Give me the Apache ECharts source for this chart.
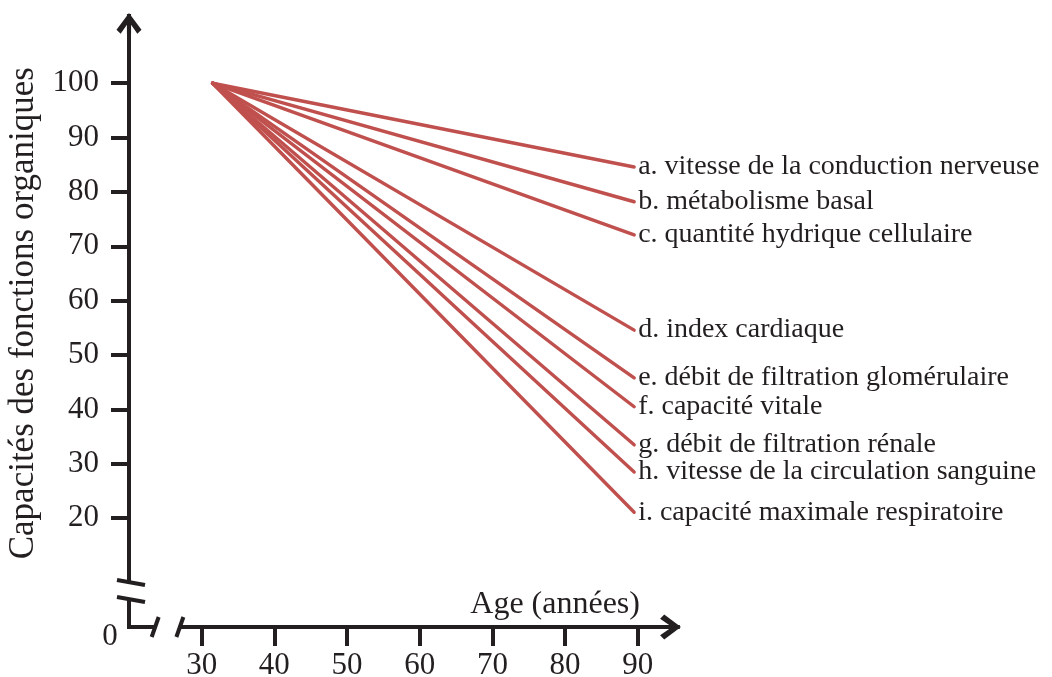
<!DOCTYPE html>
<html><head><meta charset="utf-8">
<script src="https://cdn.jsdelivr.net/npm/echarts@6/dist/echarts.min.js"></script>
<style>html,body{margin:0;padding:0;background:#fff}#c{width:1052px;height:677px}</style>
</head><body><div id="c"></div>
<script>
// ---- data ----
const letters = ['a', 'b', 'c', 'd', 'e', 'f', 'g', 'h', 'i'];
const functionNames = [
  'vitesse de la conduction nerveuse',
  'métabolisme basal',
  'quantité hydrique cellulaire',
  'index cardiaque',
  'débit de filtration glomérulaire',
  'capacité vitale',
  'débit de filtration rénale',
  'vitesse de la circulation sanguine',
  'capacité maximale respiratoire'
];
const startAge = 31.5;
const startValue = 100;
const endAge = 89.5;
const endValues = [84.6, 78.2, 72.1, 54.6, 45.8, 40.5, 33.5, 28.5, 21.1];
const yTickValues = [20, 30, 40, 50, 60, 70, 80, 90, 100];
const xTickValues = [30, 40, 50, 60, 70, 80, 90];
const xTitle = 'Age (années)';
const yTitle = 'Capacités des fonctions organiques';
const originLabel = '0';

// ---- style ----
const INK = '#231f20';
const RED = '#c0504d';
const FONT = '"Liberation Serif", "Times New Roman", serif';
const ARROW = 'path://M0,16 L12,0 L24,16 L20,20 L12,8.5 L4,20 Z M10,1 L14,1 L14,20 L10,20 Z';

const chart = echarts.init(document.getElementById('c'), null, { renderer: 'canvas' });

const series = letters.map((l, i) => ({
  type: 'line',
  name: l,
  data: [[startAge, startValue], [endAge, endValues[i]]],
  showSymbol: false,
  symbol: 'none',
  silent: true,
  clip: false,
  lineStyle: { color: RED, width: 3.4, cap: 'round' },
  endLabel: {
    show: true,
    distance: 4,
    formatter: l + '. ' + functionNames[i],
    color: INK,
    fontFamily: FONT,
    fontSize: 28
  },
  animation: false
}));

chart.setOption({
  animation: false,
  backgroundColor: '#fff',
  grid: { left: 129, right: 381.5, top: 23.4, bottom: 50, containLabel: false, outerBoundsMode: 'none' },
  xAxis: {
    type: 'value', min: 20, max: 94.5,
    axisLine: { show: true, lineStyle: { color: INK, width: 4 }, symbol: ['none', ARROW], symbolSize: [25, 21] },
    axisTick: { show: true, length: 19, lineStyle: { color: INK, width: 4 }, customValues: xTickValues },
    axisLabel: { show: true, customValues: xTickValues, color: INK, fontFamily: FONT, fontSize: 31, margin: 23 },
    splitLine: { show: false }
  },
  yAxis: {
    type: 'value', min: 0, max: 111,
    name: yTitle, nameLocation: 'middle', nameGap: 84,
    nameTextStyle: { color: INK, fontFamily: FONT, fontSize: 35, padding: [0, 0, 0, 24] },
    axisLine: { show: true, lineStyle: { color: INK, width: 4 }, symbol: ['none', ARROW], symbolSize: [25, 21] },
    axisTick: { show: true, length: 18, lineStyle: { color: INK, width: 4 }, customValues: yTickValues },
    axisLabel: { show: true, customValues: yTickValues, color: INK, fontFamily: FONT, fontSize: 31, margin: 30 },
    splitLine: { show: false }
  },
  series: series
});

// ---- axis decorations: breaks, origin label, x title ----
const px = (x, y) => chart.convertToPixel({ gridIndex: 0 }, [x, y]);
const o = px(20, 0);
const yb1 = px(20, 8.2), yb2 = px(20, 5.06);
const xb1 = px(23.6, 0), xb2 = px(27.0, 0);
const titlePos = px(90.3, 0);
const g = [];
// corner fill
g.push({ type: 'rect', z: 100, shape: { x: o[0] - 2, y: o[1] - 2, width: 4, height: 4 }, style: { fill: INK } });
// y break
g.push({ type: 'rect', z: 100, shape: { x: o[0] - 4, y: yb1[1] + 1, width: 8, height: yb2[1] - yb1[1] - 2 }, style: { fill: '#fff' } });
[yb1, yb2].forEach(p => g.push({ type: 'line', z: 101, shape: { x1: p[0] - 12, y1: p[1] - 2.5, x2: p[0] + 16, y2: p[1] + 2.5 }, style: { stroke: INK, lineWidth: 4 } }));
// x break
g.push({ type: 'rect', z: 100, shape: { x: xb1[0] + 1, y: o[1] - 4, width: xb2[0] - xb1[0] - 2, height: 8 }, style: { fill: '#fff' } });
[xb1, xb2].forEach(p => g.push({ type: 'line', z: 101, shape: { x1: p[0] - 3.5, y1: p[1] + 10, x2: p[0] + 3.5, y2: p[1] - 10 }, style: { stroke: INK, lineWidth: 4 } }));
// origin label
g.push({ type: 'text', z: 101, x: o[0] - 19, y: o[1] + 10, style: { text: originLabel, fill: INK, font: '31px ' + FONT, align: 'center', verticalAlign: 'middle' } });
// x title
g.push({ type: 'text', z: 101, x: titlePos[0], y: titlePos[1] - 22, style: { text: xTitle, fill: INK, font: '32px ' + FONT, align: 'right', verticalAlign: 'middle' } });
chart.setOption({ graphic: { elements: g } });
</script></body></html>
